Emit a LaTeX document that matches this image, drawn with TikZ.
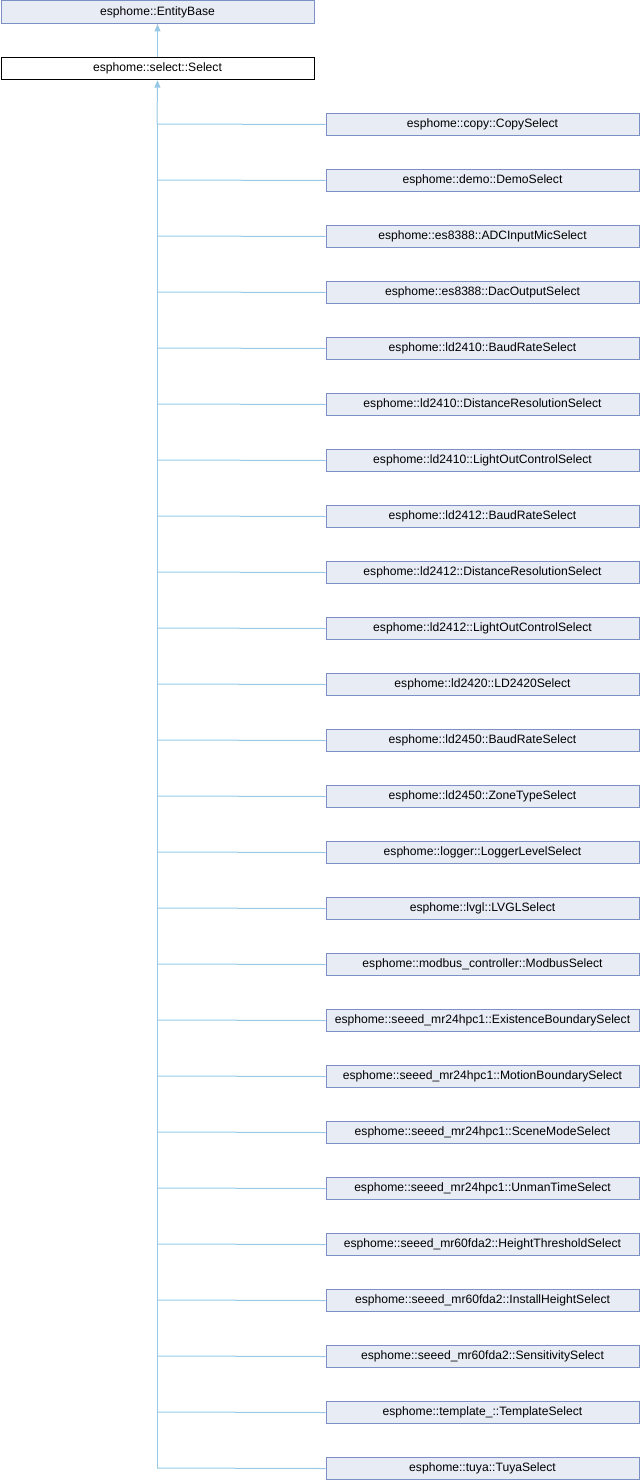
\documentclass[tikz,border=0pt]{standalone}
\usepackage{fontspec}
\setmainfont{Liberation Sans}
\usetikzlibrary{arrows.meta}
\definecolor{edgeblue}{HTML}{97C8E6}
\definecolor{boxfill}{HTML}{E8ECF5}
\definecolor{boxline}{HTML}{7D90C3}
\begin{document}
\begin{tikzpicture}[x=0.75pt,y=-0.75pt,
  cls/.style={draw=boxline,fill=boxfill,line width=0.75pt,minimum width=313*0.75pt,minimum height=22.6*0.75pt,inner sep=0pt,font=\fontsize{9.1pt}{10pt}\selectfont,anchor=north west},
  cur/.style={cls,draw=black,fill=white},
  edge/.style={draw=edgeblue,line width=0.75pt},
  inh/.style={edge,-{Triangle[length=5.5pt,width=4.5pt,fill=edgeblue]}}]
\useasboundingbox (0,0) rectangle (640,1480);
\node[cls] (base) at (0.5,0.5) {esphome::EntityBase};
\node[cur] (sel) at (0.5,56.7) {esphome::select::Select};
\draw[inh] (sel.north) -- (base.south);
\foreach \i/\t in {0/esphome::copy::CopySelect,1/esphome::demo::DemoSelect,2/esphome::es8388::ADCInputMicSelect,3/esphome::es8388::DacOutputSelect,4/esphome::ld2410::BaudRateSelect,5/esphome::ld2410::DistanceResolutionSelect,6/esphome::ld2410::LightOutControlSelect,7/esphome::ld2412::BaudRateSelect,8/esphome::ld2412::DistanceResolutionSelect,9/esphome::ld2412::LightOutControlSelect,10/esphome::ld2420::LD2420Select,11/esphome::ld2450::BaudRateSelect,12/esphome::ld2450::ZoneTypeSelect,13/esphome::logger::LoggerLevelSelect,14/esphome::lvgl::LVGLSelect,15/esphome::modbus\_controller::ModbusSelect,16/esphome::seeed\_mr24hpc1::ExistenceBoundarySelect,17/esphome::seeed\_mr24hpc1::MotionBoundarySelect,18/esphome::seeed\_mr24hpc1::SceneModeSelect,19/esphome::seeed\_mr24hpc1::UnmanTimeSelect,20/esphome::seeed\_mr60fda2::HeightThresholdSelect,21/esphome::seeed\_mr60fda2::InstallHeightSelect,22/esphome::seeed\_mr60fda2::SensitivitySelect,23/esphome::template\_::TemplateSelect,24/esphome::tuya::TuyaSelect}{
  \node[cls] (c\i) at (325.5,112.7+56*\i) {\t};
  \coordinate (j\i) at (157,124+56*\i);
  \draw[edge] (j\i) -- (c\i.west);
}
\draw[edge] (j24) -- (j0);
\draw[inh] (j0) -- (sel.south);
\end{tikzpicture}
\end{document}
